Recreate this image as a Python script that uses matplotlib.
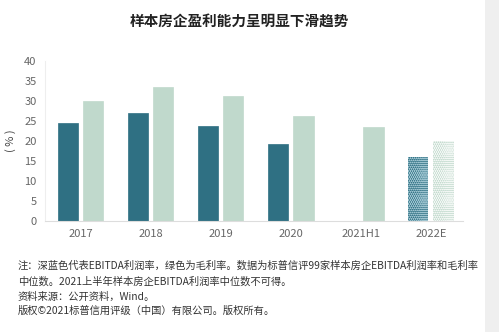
import numpy as np
import matplotlib.pyplot as plt
from matplotlib.patches import Rectangle

plt.rcParams['font.family'] = ['Noto Sans CJK SC', 'DejaVu Sans']
plt.rcParams['hatch.linewidth'] = 0.5

categories = ['2017', '2018', '2019', '2020', '2021H1', '2022E']
ebitda = [24.6, 27.0, 23.8, 19.2, np.nan, 16.0]
gross = [30.0, 33.5, 31.2, 26.3, 23.5, 20.1]

dark = '#2f7083'
light = '#c0d9cc'

fig = plt.figure(figsize=(4.99, 3.32), dpi=100)
fig.patches.append(Rectangle((0.972, 0), 0.028, 1, transform=fig.transFigure,
                             facecolor='#efefef', edgecolor='none'))
ax = fig.add_axes([0.09, 0.334, 0.838, 0.482])

x = np.arange(len(categories))
w = 0.29
off = 0.18
for i in range(len(categories)):
    est = categories[i].endswith('E')
    if not np.isnan(ebitda[i]):
        ax.bar(x[i] - off, ebitda[i], w, color=dark,
               edgecolor='#9cc3cf' if est else dark, linewidth=0 if est else 0.5,
               hatch='oooooooo' if est else None)
    ax.bar(x[i] + off, gross[i], w, color=light,
           edgecolor='#f2f7f4' if est else light, linewidth=0 if est else 0.5,
           hatch='oooooooo' if est else None)

ax.set_xlim(-0.51, 5.46)
ax.set_ylim(0, 40)
ax.set_yticks(range(0, 41, 5))
ax.set_xticks(x)
ax.set_xticklabels(categories)
ax.tick_params(axis='both', length=0, labelsize=8, labelcolor='#666666')
ax.tick_params(axis='x', pad=6)
ax.tick_params(axis='y', pad=6)
for s in ['top', 'right']:
    ax.spines[s].set_visible(False)
ax.spines['left'].set_color('#eeeeee')
ax.spines['bottom'].set_color('#dddddd')
ax.set_ylabel('( % )', fontsize=8, color='#444444', labelpad=6)

fig.text(0.48, 0.935, '样本房企盈利能力呈明显下滑趋势', ha='center', va='center',
         fontsize=10.5, fontweight='bold', color='#222222')

notes = ['注：深蓝色代表EBITDA利润率，绿色为毛利率。数据为标普信评99家样本房企EBITDA利润率和毛利率',
         '中位数。2021上半年样本房企EBITDA利润率中位数不可得。',
         '资料来源：公开资料，Wind。',
         '版权©2021标普信用评级（中国）有限公司。版权所有。']
ys = [266, 282, 297, 311]
for t, yy in zip(notes, ys):
    fig.text(18 / 499, 1 - yy / 332, t, ha='left', va='center', fontsize=7.4, color='#333333')

fig.savefig('out.png', dpi=100)
